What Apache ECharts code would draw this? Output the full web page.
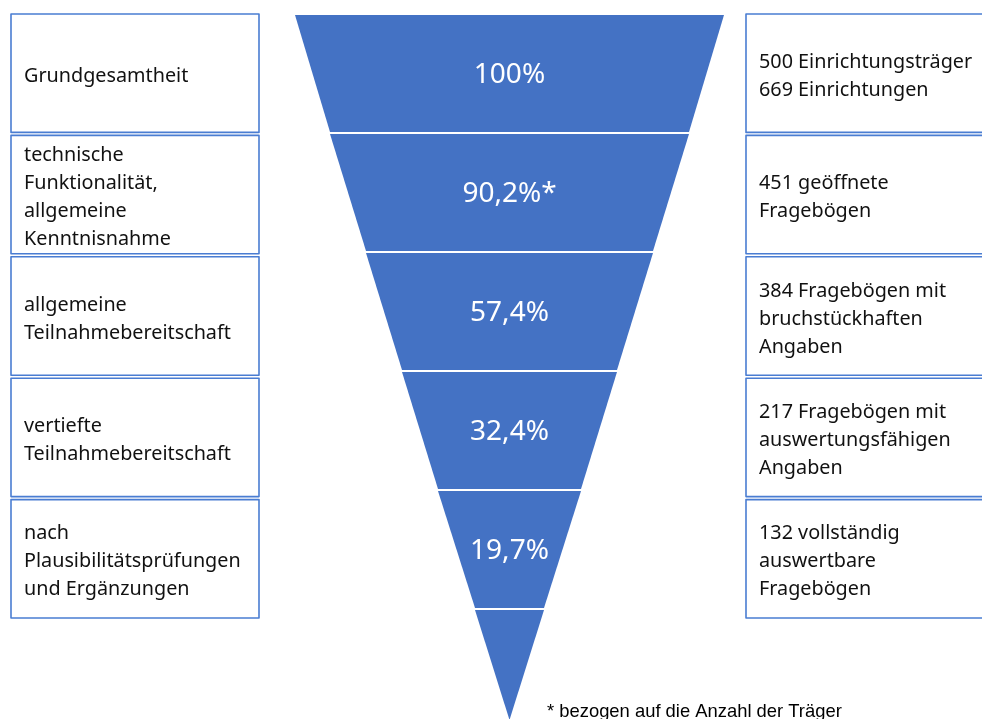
<!DOCTYPE html>
<html>
<head>
<meta charset="utf-8">
<script src="https://cdn.jsdelivr.net/npm/echarts@6/dist/echarts.min.js"></script>
<style>
  html, body { margin: 0; padding: 0; background: #fff; }
  #chart { width: 982px; height: 719px; }
</style>
</head>
<body>
<div id="chart"></div>
<script>
// stages of the survey (left boxes)
var stages = [
  'Grundgesamtheit',
  'technische\nFunktionalität,\nallgemeine\nKenntnisnahme',
  'allgemeine\nTeilnahmebereitschaft',
  'vertiefte\nTeilnahmebereitschaft',
  'nach\nPlausibilitätsprüfungen\nund Ergänzungen'
];
// share of the population per stage, in %
var shares = [100, 90.2, 57.4, 32.4, 19.7];
var shareMarks = ['', '*', '', '', ''];
// what was counted at each stage (right boxes)
var results = [
  '500 Einrichtungsträger\n669 Einrichtungen',
  '451 geöffnete\nFragebögen',
  '384 Fragebögen mit\nbruchstückhaften\nAngaben',
  '217 Fragebögen mit\nauswertungsfähigen\nAngaben',
  '132 vollständig\nauswertbare\nFragebögen'
];
// top width of every funnel segment as drawn (last one is the tip)
var segmentWidths = [429, 359, 287, 215, 143, 69];
var footnote = '* bezogen auf die Anzahl der Träger';

var chart = echarts.init(document.getElementById('chart'), null, { renderer: 'canvas' });

var blue = '#4472c4';
var boxBorder = '#4a7dd2';
var boxFont = 'Noto Sans';

function fmtShare(v) {
  return String(v).replace('.', ',') + '%';
}

// a thin spacer line on top pushes the centred text block down a little
function nudge(text) {
  return '{s| }\n' + text;
}

function boxSeries(texts, left, width) {
  return {
    type: 'funnel',
    sort: 'none',
    left: left,
    width: width,
    top: 14,
    height: 604,
    gap: 3,
    min: 0,
    max: 1,
    minSize: '100%',
    maxSize: '100%',
    silent: true,
    emphasis: { disabled: true },
    itemStyle: { color: '#fff', borderColor: boxBorder, borderWidth: 1.6 },
    label: {
      show: true,
      position: 'insideLeft',
      formatter: function (p) { return nudge(p.name); },
      color: '#111',
      fontFamily: boxFont,
      fontSize: 19.8,
      lineHeight: 28,
      padding: [0, 0, 0, 8],
      rich: { s: { fontSize: 1, lineHeight: 6 } }
    },
    labelLine: { show: false },
    data: texts.map(function (t) { return { name: t, value: 1 }; })
  };
}

var option = {
  backgroundColor: '#fff',
  animation: false,
  title: {
    text: footnote,
    left: 547,
    top: 703,
    padding: 0,
    textStyle: {
      fontFamily: 'Liberation Sans',
      fontSize: 18.4,
      fontWeight: 'normal',
      color: '#000'
    }
  },
  series: [
    boxSeries(stages, 11, 248),
    {
      type: 'funnel',
      sort: 'none',
      left: 295,
      width: 429,
      top: 15,
      height: 705,
      gap: 2,
      min: 0,
      max: segmentWidths[0],
      minSize: '0%',
      maxSize: '100%',
      silent: true,
      emphasis: { disabled: true },
      itemStyle: { color: blue, borderWidth: 0 },
      label: {
        show: true,
        position: 'inside',
        color: '#fff',
        fontFamily: boxFont,
        fontSize: 28,
        rich: { s: { fontSize: 1, lineHeight: 4 } },
        formatter: function (p) {
          var i = p.dataIndex;
          return i < shares.length ? nudge(fmtShare(shares[i]) + shareMarks[i]) : '';
        }
      },
      labelLine: { show: false },
      data: segmentWidths.map(function (w, i) {
        return {
          name: i < stages.length ? stages[i] : 'Rest',
          value: w,
          itemStyle: { height: i < segmentWidths.length - 1 ? 117 : 110 }
        };
      })
    },
    boxSeries(results, 746, 262)
  ]
};

chart.setOption(option);
</script>
</body>
</html>
